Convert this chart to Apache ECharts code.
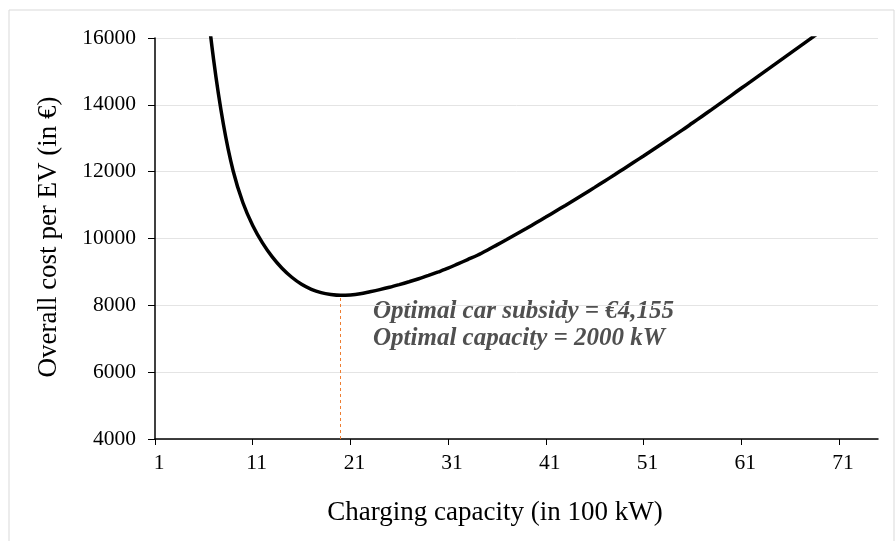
<!DOCTYPE html>
<html>
<head>
<meta charset="utf-8">
<script src="https://cdn.jsdelivr.net/npm/echarts@6/dist/echarts.min.js"></script>
<style>
  html, body { margin: 0; padding: 0; background: #fff; }
  #chart { width: 896px; height: 541px; }
</style>
</head>
<body>
<div id="chart"></div>
<script>
// capacidad de carga (en 100 kW), 1..75
const capacity = [];
for (let i = 1; i <= 75; i++) capacity.push(String(i));

// coste total por EV (en €)
const overallCost = [
  70000, 43000, 31500, 25000, 21000, 17900, 15350, 13420, 12020, 11070,
  10390, 9870, 9450, 9110, 8840, 8630, 8480, 8380, 8325, 8300,
  8312, 8348, 8407, 8470, 8540, 8620, 8705, 8795, 8895, 9000,
  9110, 9240, 9370, 9500, 9650, 9810, 9970, 10135, 10300, 10470,
  10640, 10815, 10990, 11170, 11350, 11530, 11715, 11900, 12090, 12280,
  12470, 12665, 12860, 13055, 13250, 13455, 13660, 13865, 14075, 14285,
  14495, 14700, 14910, 15120, 15330, 15540, 15750, 15960, 16170, 16380,
  16590, 16800, 17010, 17220, 17430
];

const yTicks = [4000, 6000, 8000, 10000, 12000, 14000, 16000];
const annotationLines = ['Optimal car subsidy = €4,155', 'Optimal capacity = 2000 kW'];

// punto óptimo (mínimo de la curva)
const optIndex = overallCost.indexOf(Math.min(...overallCost));

const serif = '"Liberation Serif", "Times New Roman", serif';
const chart = echarts.init(document.getElementById('chart'));

const option = {
  backgroundColor: '#ffffff',
  animation: false,
  grid: { left: 155, right: 18, top: 38, bottom: 102 },
  xAxis: {
    type: 'category',
    data: capacity,
    boundaryGap: false,
    axisLine: { lineStyle: { color: '#000', width: 1.5 } },
    axisTick: { interval: 9, length: 6, lineStyle: { color: '#000', width: 1 } },
    axisLabel: {
      interval: 9, margin: 13, color: '#000', fontSize: 21.5, fontFamily: serif,
      padding: [0, 0, 0, 8]
    },
    splitLine: { show: false }
  },
  yAxis: {
    type: 'value',
    min: yTicks[0],
    max: yTicks[yTicks.length - 1],
    interval: 2000,
    axisLine: { show: true, lineStyle: { color: '#000', width: 1.5 } },
    axisTick: { show: true, length: 7, lineStyle: { color: '#000', width: 1 } },
    axisLabel: {
      margin: 19, color: '#000', fontSize: 21.5, fontFamily: serif,
      formatter: function (v) { return String(v); }
    },
    splitLine: { lineStyle: { color: '#e4e4e4', width: 1 } }
  },
  series: [{
    type: 'line',
    data: overallCost,
    showSymbol: false,
    smooth: 0.3,
    clip: true,
    lineStyle: { color: '#000', width: 3.5 },
    markLine: {
      silent: true,
      symbol: 'none',
      lineStyle: { color: '#ED7D31', type: [3, 3], width: 1 },
      label: { show: false },
      data: [[
        { coord: [capacity[optIndex], yTicks[0]] },
        { coord: [capacity[optIndex], overallCost[optIndex]] }
      ]]
    }
  }],
  graphic: [
    {
      type: 'rect',
      shape: { x: 9, y: 10, width: 885, height: 540 },
      style: { fill: 'none', stroke: '#d9d9d9', lineWidth: 1 },
      silent: true
    },
    {
      type: 'text',
      left: 373, top: 298,
      style: {
        text: annotationLines.join('\n'),
        font: 'italic bold 25px ' + serif,
        lineHeight: 27,
        fill: '#505050'
      }
    },
    {
      type: 'text',
      x: 49, y: 237,
      rotation: Math.PI / 2,
      style: {
        text: 'Overall cost per EV (in €)',
        font: '27px ' + serif,
        fill: '#000',
        align: 'center',
        verticalAlign: 'middle'
      }
    },
    {
      type: 'text',
      x: 495, y: 513,
      style: {
        text: 'Charging capacity (in 100 kW)',
        font: '27px ' + serif,
        fill: '#000',
        align: 'center',
        verticalAlign: 'middle'
      }
    }
  ]
};

chart.setOption(option);
window.onresize = function () { chart.resize(); };
</script>
</body>
</html>
